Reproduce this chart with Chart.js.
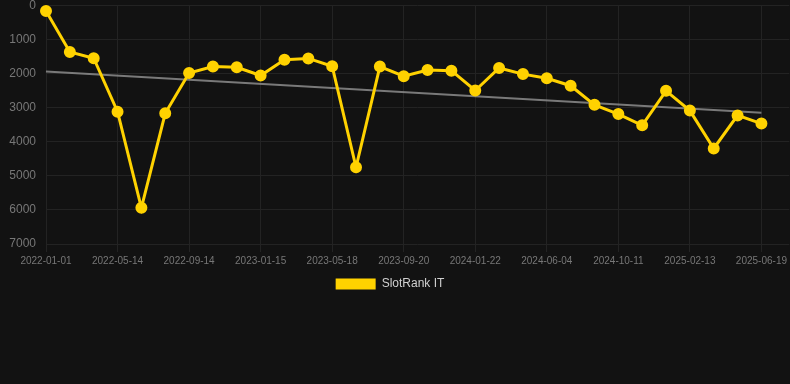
<!DOCTYPE html>
<html>
<head>
<meta charset="utf-8">
<script src="https://cdn.jsdelivr.net/npm/chart.js@4/dist/chart.umd.min.js"></script>
<style>
html,body{margin:0;padding:0;background:#121212;}
#wrap{position:relative;width:790px;height:302px;}
</style>
</head>
<body>
<div id="wrap"><canvas id="c"></canvas></div>
<script>
const dates = ['2022-01-01','2022-02-14','2022-03-30','2022-05-14','2022-06-23','2022-08-04','2022-09-14','2022-10-25','2022-12-05','2023-01-15','2023-02-25','2023-04-07','2023-05-18','2023-06-29','2023-08-09','2023-09-20','2023-10-31','2023-12-11','2024-01-22','2024-03-06','2024-04-20','2024-06-04','2024-07-17','2024-08-29','2024-10-11','2024-11-22','2025-01-02','2025-02-13','2025-03-27','2025-05-08','2025-06-19'];
const rankIT = [170,1370,1555,3120,5940,3170,1990,1800,1820,2060,1600,1560,1790,4750,1800,2080,1900,1920,2500,1840,2020,2140,2360,2920,3190,3520,2510,3090,4200,3230,3470];
const trendEnds = [1940,3150];
const yTicks = [0,1000,2000,3000,4000,5000,6000,7000];
const labelEvery = 3;

const FONT = "'Liberation Sans', Arial, sans-serif";
const mainData = rankIT.map((v,i)=>({x:i,y:v}));
const trendData = [{x:0,y:trendEnds[0]},{x:dates.length-1,y:trendEnds[1]}];

const shiftLegend = {
  id:'shiftLegend',
  afterLayout(chart){ if(chart.legend){ chart.legend.left -= 5; chart.legend.right -= 5; chart.legend.top -= 2; chart.legend.bottom -= 2; } }
};

new Chart(document.getElementById('c'),{
  type:'line',
  data:{datasets:[
    {label:'SlotRank IT',data:mainData,borderColor:'#FFD200',backgroundColor:'#FFD200',borderWidth:3,pointRadius:4.5,pointHoverRadius:5,pointBackgroundColor:'#FFD200',pointBorderColor:'#FFD200',tension:0,order:1,clip:false},
    {label:'trend',data:trendData,borderColor:'rgba(140,140,140,0.85)',borderWidth:2,pointRadius:0,tension:0,order:2,clip:false}
  ]},
  plugins:[shiftLegend],
  options:{
    responsive:true,maintainAspectRatio:false,animation:false,
    layout:{autoPadding:false,padding:{left:0,right:0,top:0,bottom:0}},
    plugins:{
      legend:{position:'bottom',labels:{color:'#d0d0d0',font:{family:FONT,size:12},boxWidth:40,boxHeight:11,
        filter:(it)=>it.text!=='trend',
        generateLabels:(chart)=>Chart.defaults.plugins.legend.labels.generateLabels(chart).map(l=>Object.assign(l,{lineWidth:0}))}},
      tooltip:{enabled:false}
    },
    scales:{
      x:{type:'linear',min:0,max:31.17,
        afterBuildTicks:(ax)=>{ax.ticks=dates.map((d,i)=>i).filter(i=>i%labelEvery===0).map(v=>({value:v}));},
        ticks:{color:'#777',font:{family:FONT,size:10},maxRotation:0,autoSkip:false,padding:3,callback:(v)=>dates[v]||''},
        grid:{color:'#232323',tickLength:8},border:{display:false}
      },
      y:{reverse:true,min:0,max:7000,
        afterBuildTicks:(ax)=>{ax.ticks=yTicks.map(v=>({value:v}));},
        afterFit:(ax)=>{ax.width=46;},
        ticks:{color:'#777',font:{family:FONT,size:12,lineHeight:0.7},padding:1,callback:(v)=>String(v)},
        grid:{color:'#232323',drawTicks:true,tickLength:9,tickColor:'rgba(0,0,0,0)'},border:{display:false}
      }
    }
  }
});
</script>
</body>
</html>
